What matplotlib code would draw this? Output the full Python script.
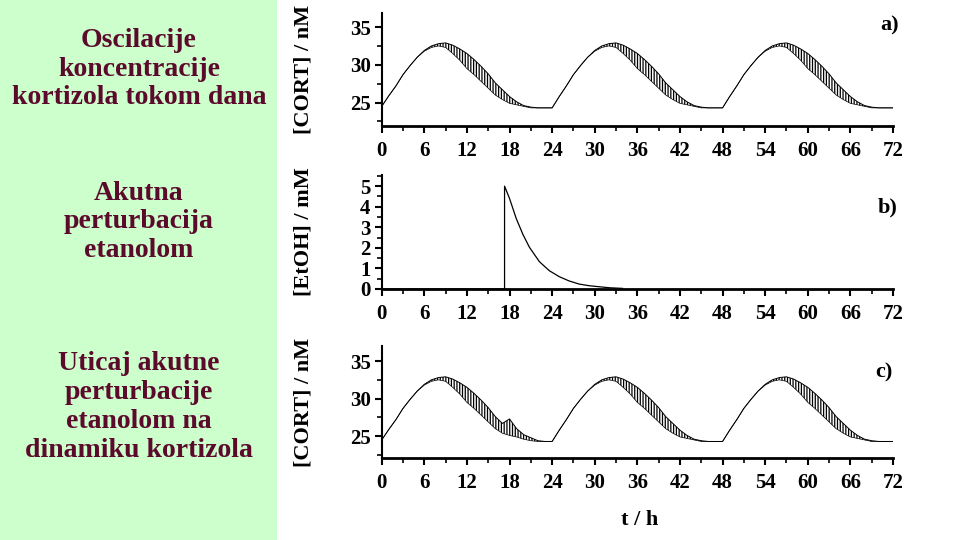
"""
Cortisol oscillations and acute ethanol perturbation (three stacked panels)
with a green text column on the left.
"""

import matplotlib
matplotlib.use("Agg")
import matplotlib.pyplot as plt
from matplotlib.ticker import MultipleLocator

plt.rcParams["font.family"] = ["Liberation Serif", "DejaVu Serif"]
plt.rcParams["font.weight"] = "bold"
plt.rcParams["hatch.linewidth"] = 0.9

# ------------------------------------------------------------------
# Data (hours, envelope of the fast oscillation)
# ------------------------------------------------------------------
t_hours = list(range(0, 73))

cort_a_upper = [
    24.5, 25.9, 27.2, 28.7, 29.9, 31.0, 31.9, 32.5, 32.8, 32.9, 32.6, 32.1,
    31.5, 30.7, 29.8, 28.8, 27.6, 26.7, 25.8, 25.1, 24.6, 24.4, 24.3, 24.3,
    24.3, 25.8, 27.2, 28.7, 29.9, 31.0, 31.9, 32.5, 32.8, 32.9, 32.6, 32.1,
    31.5, 30.7, 29.8, 28.8, 27.6, 26.7, 25.8, 25.1, 24.6, 24.4, 24.3, 24.3,
    24.3, 25.8, 27.2, 28.7, 29.9, 31.0, 31.9, 32.5, 32.8, 32.9, 32.6, 32.1,
    31.5, 30.7, 29.8, 28.8, 27.6, 26.7, 25.8, 25.1, 24.6, 24.4, 24.3, 24.3,
    24.3,
]
cort_a_lower = [
    24.5, 25.9, 27.2, 28.7, 29.9, 31.0, 31.8, 32.3, 32.5, 32.3, 31.5, 30.6,
    29.5, 28.7, 27.8, 26.9, 26.0, 25.4, 24.9, 24.7, 24.5, 24.3, 24.3, 24.3,
    24.3, 25.8, 27.2, 28.7, 29.9, 31.0, 31.8, 32.3, 32.5, 32.3, 31.5, 30.6,
    29.5, 28.7, 27.8, 26.9, 26.0, 25.4, 24.9, 24.7, 24.5, 24.3, 24.3, 24.3,
    24.3, 25.8, 27.2, 28.7, 29.9, 31.0, 31.8, 32.3, 32.5, 32.3, 31.5, 30.6,
    29.5, 28.7, 27.8, 26.9, 26.0, 25.4, 24.9, 24.7, 24.5, 24.3, 24.3, 24.3,
    24.3,
]

cort_c_upper = [
    24.5, 25.9, 27.2, 28.7, 29.9, 31.0, 31.9, 32.5, 32.8, 32.9, 32.6, 32.1,
    31.5, 30.7, 29.8, 28.8, 27.6, 26.7, 27.3, 26.0, 25.2, 24.8, 24.4, 24.3,
    24.3, 25.8, 27.2, 28.7, 29.9, 31.0, 31.9, 32.5, 32.8, 32.9, 32.6, 32.1,
    31.5, 30.7, 29.8, 28.8, 27.6, 26.7, 25.8, 25.1, 24.6, 24.4, 24.3, 24.3,
    24.3, 25.8, 27.2, 28.7, 29.9, 31.0, 31.9, 32.5, 32.8, 32.9, 32.6, 32.1,
    31.5, 30.7, 29.8, 28.8, 27.6, 26.7, 25.8, 25.1, 24.6, 24.4, 24.3, 24.3,
    24.3,
]
cort_c_lower = [
    24.5, 25.9, 27.2, 28.7, 29.9, 31.0, 31.8, 32.3, 32.5, 32.3, 31.5, 30.6,
    29.5, 28.7, 27.8, 26.9, 26.0, 25.4, 25.1, 24.9, 24.6, 24.4, 24.3, 24.3,
    24.3, 25.8, 27.2, 28.7, 29.9, 31.0, 31.8, 32.3, 32.5, 32.3, 31.5, 30.6,
    29.5, 28.7, 27.8, 26.9, 26.0, 25.4, 24.9, 24.7, 24.5, 24.3, 24.3, 24.3,
    24.3, 25.8, 27.2, 28.7, 29.9, 31.0, 31.8, 32.3, 32.5, 32.3, 31.5, 30.6,
    29.5, 28.7, 27.8, 26.9, 26.0, 25.4, 24.9, 24.7, 24.5, 24.3, 24.3, 24.3,
    24.3,
]

# ethanol pulse at ~17.3 h, then decay
t_etoh = [0.0, 17.3, 17.3, 18.0, 18.95, 19.9, 20.8, 22.2, 23.6, 25.0,
          26.4, 27.8, 29.2, 30.6, 32.1, 33.9]
etoh = [0.0, 0.0, 5.0, 4.4, 3.42, 2.64, 2.03, 1.33, 0.89, 0.6,
        0.39, 0.24, 0.16, 0.11, 0.06, 0.03]

x_ticks = list(range(0, 73, 6))
cort_ticks = [25, 30, 35]
etoh_ticks = [0, 1, 2, 3, 4, 5]

left_texts = [
    ("Oscilacije\nkoncentracije\nkortizola tokom dana", 69),
    ("Akutna\nperturbacija\netanolom", 222),
    ("Uticaj akutne\nperturbacije\netanolom na\ndinamiku kortizola", 407),
]

W, H = 960, 540
fig = plt.figure(figsize=(9.6, 5.4), dpi=100)
fig.patch.set_facecolor("white")

# green text column
green = fig.add_axes([0, 0, 277 / W, 1])
green.set_facecolor("#ccffcc")
green.set_xticks([])
green.set_yticks([])
for s in green.spines.values():
    s.set_visible(False)
for txt, yc in left_texts:
    fig.text(139 / W, 1 - yc / H, txt, ha="center", va="center",
             fontsize=20, color="#5c0a2c", fontweight="bold",
             linespacing=1.2)


def style_axis(ax, ylim, yticks, yminor, ylabel):
    ax.set_xlim(0, 72)
    ax.set_ylim(*ylim)
    ax.set_xticks(x_ticks)
    ax.xaxis.set_minor_locator(MultipleLocator(3))
    ax.set_yticks(yticks)
    ax.yaxis.set_minor_locator(MultipleLocator(yminor))
    for side in ("top", "right"):
        ax.spines[side].set_visible(False)
    ax.spines["bottom"].set_linewidth(2.0)
    ax.spines["left"].set_linewidth(1.5)
    ax.tick_params(axis="both", which="major", length=5, width=1.5,
                   labelsize=15, pad=3)
    ax.tick_params(axis="both", which="minor", length=3.5, width=1.2)
    ax.tick_params(axis="x", which="major", pad=6)
    for lab in ax.get_xticklabels() + ax.get_yticklabels():
        lab.set_fontweight("bold")
    ax.set_ylabel(ylabel, fontsize=16, fontweight="bold")
    ax.yaxis.set_label_coords(-0.134, 0.5)
    ax.set_facecolor("none")


def cort_panel(ax, upper, lower):
    # dense fast oscillation drawn as a hatched band between its envelopes
    ax.fill_between(t_hours, lower, upper, facecolor="none",
                    edgecolor="black", hatch="||||||", linewidth=0)
    ax.plot(t_hours, upper, color="black", linewidth=0.7)
    ax.plot(t_hours, lower, color="black", linewidth=0.5)


ax_l = 381.7 / W
ax_w = (893 - 381.7) / W

ax_a = fig.add_axes([ax_l, 1 - 126 / H, ax_w, (126 - 12.7) / H])
cort_panel(ax_a, cort_a_upper, cort_a_lower)
style_axis(ax_a, (21.9, 36.9), cort_ticks, 2.5, "[CORT] / nM")

ax_b = fig.add_axes([ax_l, 1 - 289 / H, ax_w, (289 - 175) / H])
ax_b.plot(t_etoh, etoh, color="black", linewidth=0.9)
style_axis(ax_b, (0, 5.54), etoh_ticks, 0.5, "[EtOH] / mM")

ax_c = fig.add_axes([ax_l, 1 - 458 / H, ax_w, (458 - 346) / H])
cort_panel(ax_c, cort_c_upper, cort_c_lower)
style_axis(ax_c, (22.1, 37.0), cort_ticks, 2.5, "[CORT] / nM")

fig.text(640 / W, 1 - 520 / H, "t / h", ha="center", va="center",
         fontsize=16, fontweight="bold")
for lab, x, y in [("a)", 890, 25), ("b)", 888, 207), ("c)", 884, 372)]:
    fig.text(x / W, 1 - y / H, lab, ha="center", va="center",
             fontsize=16, fontweight="bold")

fig.savefig("out.png", dpi=100)
